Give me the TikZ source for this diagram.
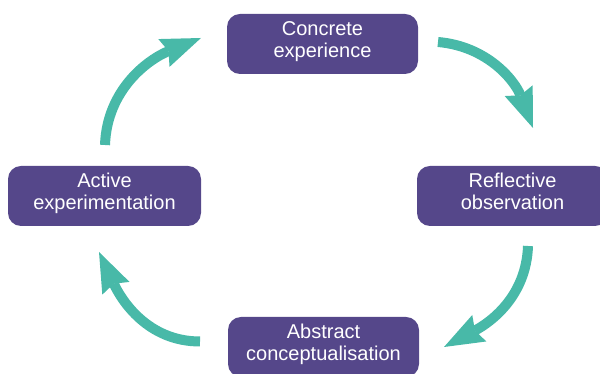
\documentclass[tikz,border=0pt]{standalone}
\usepackage{fontspec}
\setmainfont{Liberation Sans}
\usepackage{xcolor}
\usepackage{tikz}
\usetikzlibrary{arrows.meta}
\definecolor{stagepurple}{HTML}{55478A}
\definecolor{flowteal}{HTML}{48B9A8}
\def\stagelabel#1#2{\begin{tabular}[b]{@{}c@{}}#1\\#2\end{tabular}}
\tikzstyle{stage}=[fill=stagepurple,rounded corners=13pt,text=white,minimum width=191pt,minimum height=60pt,inner sep=0pt,text depth=11pt,font=\fontsize{20}{22}\selectfont]
\tikzstyle{flow}=[draw=flowteal,line width=10pt,-{Stealth[length=40pt,width=30pt,inset=5pt,line width=0pt]}]

\begin{document}
\begin{tikzpicture}[x=1pt,y=1pt]
    \useasboundingbox (0,0) rectangle (600,374);
    \node[stage] (concrete) at (322.5,330) {\stagelabel{Concrete}{experience}};
    \node[stage] (reflective) at (512.5,178) {\stagelabel{Reflective}{observation}};
    \node[stage] (abstract) at (323.5,27) {\stagelabel{Abstract}{conceptualisation}};
    \node[stage,minimum width=193pt] (active) at (104.5,178) {\stagelabel{Active}{experimentation}};
    % free ends of the cycle arrows
    \coordinate (c2r-start) at (438,332);
    \coordinate (c2r-end) at (533,246);
    \coordinate (r2a-start) at (528,128);
    \coordinate (r2a-end) at (444,27);
    \coordinate (a2a-start) at (200,32.5);
    \coordinate (a2a-end) at (99,122);
    \coordinate (a2c-start) at (105,229);
    \coordinate (a2c-end) at (201,336);
    \draw[flow] (c2r-start) to[out=-5,in=111] (c2r-end);
    \draw[flow] (r2a-start) to[out=-92,in=28] (r2a-end);
    \draw[flow] (a2a-start) to[out=180,in=-65] (a2a-end);
    \draw[flow] (a2c-start) to[out=88,in=202] (a2c-end);
\end{tikzpicture}
\end{document}
